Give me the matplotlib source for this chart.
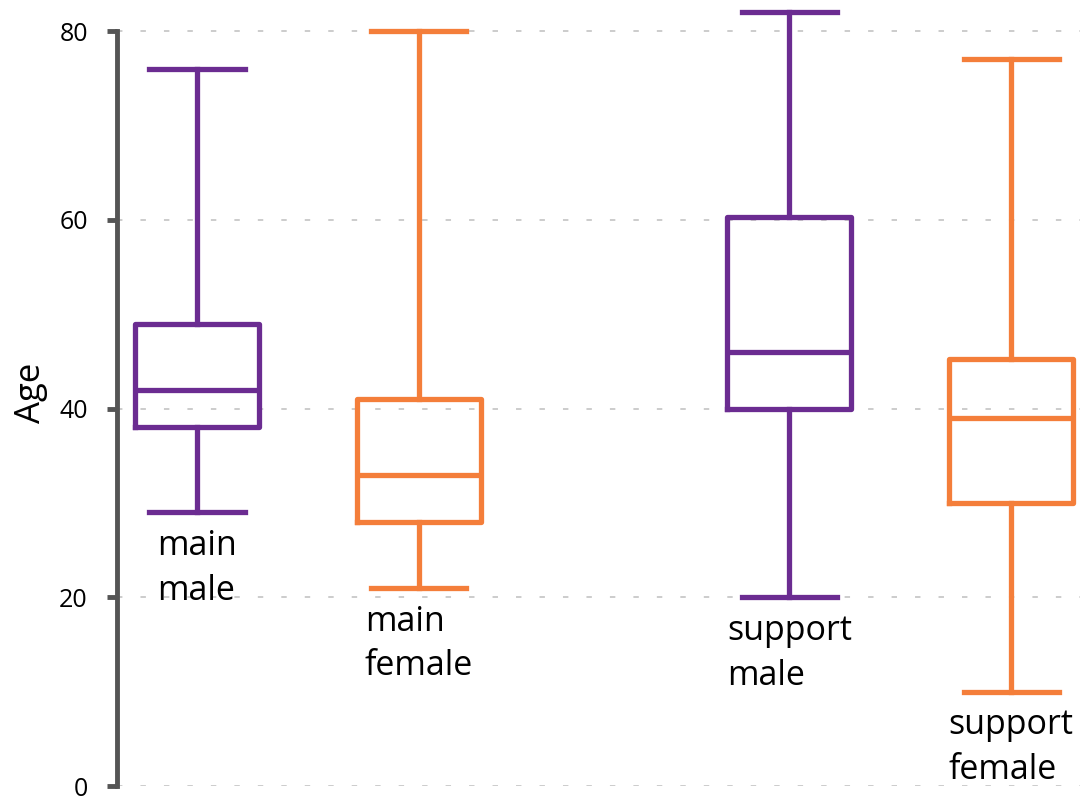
import matplotlib.pyplot as plt

plt.rcParams['font.family'] = ['Open Sans', 'DejaVu Sans']

# box stats
labels = ["main\nmale", "main\nfemale", "support\nmale", "support\nfemale"]
whis_lo = [29, 21, 20, 10]
q1 = [38, 28, 40, 30]
median = [42, 33, 46, 39]
q3 = [49, 41, 60.3, 45.3]
whis_hi = [76, 80, 82, 77]

positions = [0, 1, 2.67, 3.67]
purple = "#6b2c91"
orange = "#f47e3a"
colors = [purple, orange, purple, orange]

fig = plt.figure(figsize=(10.8, 8.02), dpi=100)
# axes bottom lifted a little so the "0" label is not clipped
ax = fig.add_axes([117 / 1080, 16 / 802, 963 / 1080, 786 / 802])

for i in range(len(labels)):
    stats = [dict(med=median[i], q1=q1[i], q3=q3[i],
                  whislo=whis_lo[i], whishi=whis_hi[i], fliers=[])]
    c = colors[i]
    lw = 3.8
    ax.bxp(stats, positions=[positions[i]], widths=0.56, capwidths=0.43,
           showfliers=False, manage_ticks=False,
           boxprops=dict(color=c, linewidth=lw),
           whiskerprops=dict(color=c, linewidth=lw),
           capprops=dict(color=c, linewidth=lw),
           medianprops=dict(color=c, linewidth=lw))
    ax.annotate(labels[i], xy=(positions[i], whis_lo[i]), xytext=(0, -12),
                textcoords="offset points", ha="center", va="top",
                multialignment="left", fontsize=24.5, linespacing=1.42)

ax.set_xlim(-0.36, 3.98)
ax.set_ylim(0, 83.3)
ax.set_yticks([0, 20, 40, 60, 80])
ax.set_xticks([])
ax.tick_params(axis='y', labelsize=18, width=3.5, length=7, color="#555555", pad=14)
ax.yaxis.grid(True, color="#c8c8c8", linestyle=(0, (3, 10)), linewidth=1.3)
ax.set_axisbelow(True)

for s in ["top", "right", "bottom"]:
    ax.spines[s].set_visible(False)
ax.spines["left"].set_bounds(0, 80)
ax.spines["left"].set_linewidth(3.5)
ax.spines["left"].set_color("#555555")

ax.set_ylabel("Age", fontsize=25, labelpad=8)

plt.savefig("out.png", dpi=100)
plt.close()
